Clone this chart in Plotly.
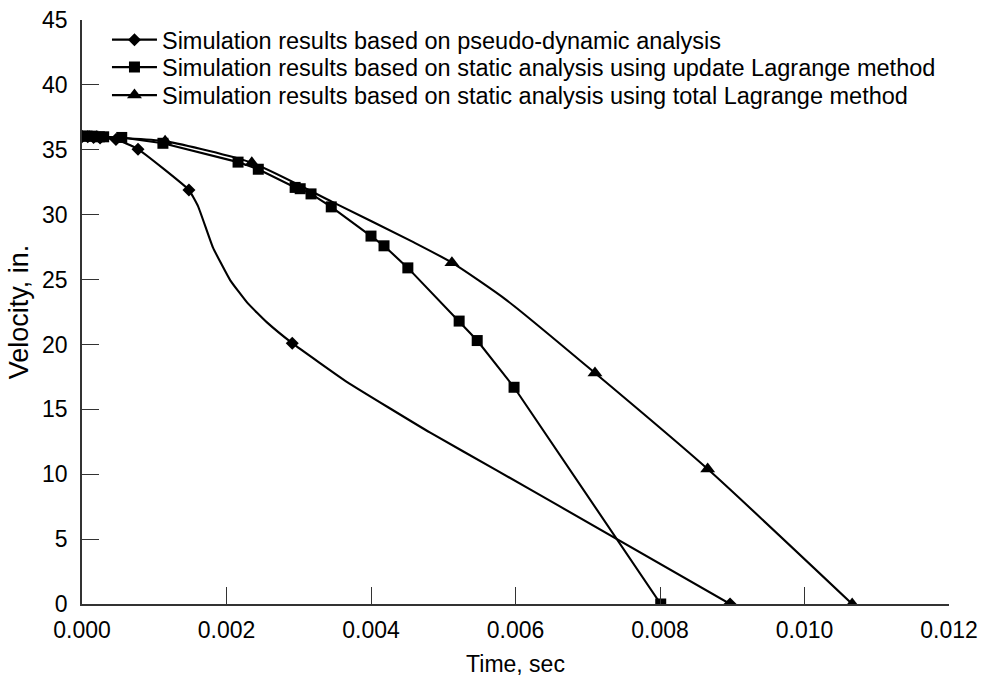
import plotly.graph_objects as go

# ---- data ----
# Series 1: pseudo-dynamic analysis (diamonds)
pd_t_mark = [0.0, 0.00008, 0.00016, 0.00025, 0.00047, 0.000775, 0.00148, 0.00291, 0.00897]
pd_v_mark = [36.0, 36.0, 35.95, 35.9, 35.8, 35.05, 31.9, 20.1, 0.0]
pd_t_line = [0.0, 0.00008, 0.00016, 0.00025, 0.00047, 0.000775, 0.00148, 0.00161, 0.00181,
             0.00205, 0.00229, 0.00256, 0.00291, 0.00367, 0.00482, 0.00574, 0.00662, 0.00897]
pd_v_line = [36.0, 36.0, 35.95, 35.9, 35.8, 35.05, 31.9, 30.6, 27.5,
             24.96, 23.2, 21.7, 20.1, 17.1, 13.2, 10.3, 7.5, 0.0]

# Series 2: static analysis, update Lagrange (squares)
ul_t_mark = [0.0, 0.00007, 0.00015, 0.00024, 0.0003, 0.00055, 0.00112, 0.00216, 0.00244,
             0.00295, 0.00302, 0.00317, 0.00345, 0.0040, 0.00418, 0.00451, 0.00522, 0.00547,
             0.00598, 0.00801]
ul_v_mark = [36.05, 36.05, 36.05, 36.0, 36.0, 35.95, 35.5, 34.05, 33.5,
             32.1, 32.0, 31.6, 30.6, 28.35, 27.6, 25.9, 21.8, 20.3,
             16.7, 0.0]
ul_t_line = ul_t_mark
ul_v_line = ul_v_mark

# Series 3: static analysis, total Lagrange (triangles)
tl_t_mark = [0.0, 0.0001, 0.0002, 0.00115, 0.00235, 0.00512, 0.0071, 0.00866, 0.01066]
tl_v_mark = [36.05, 36.0, 36.0, 35.65, 34.0, 26.3, 17.8, 10.4, 0.0]
tl_t_line = [0.0, 0.0001, 0.0002, 0.00115, 0.00235, 0.00347, 0.00458, 0.00512, 0.00588,
             0.0071, 0.00866, 0.01066]
tl_v_line = [36.05, 36.0, 36.0, 35.65, 34.0, 30.97, 27.9, 26.3, 23.4,
             17.8, 10.4, 0.0]

names = [
    "Simulation results based on pseudo-dynamic analysis",
    "Simulation results based on static analysis using update Lagrange method",
    "Simulation results based on static analysis using total Lagrange method",
]

x_ticks = [0.0, 0.002, 0.004, 0.006, 0.008, 0.010, 0.012]
x_tick_labels = ["0.000", "0.002", "0.004", "0.006", "0.008", "0.010", "0.012"]
y_ticks = [0, 5, 10, 15, 20, 25, 30, 35, 40, 45]

series = [
    (pd_t_line, pd_v_line, pd_t_mark, pd_v_mark, "diamond", 10, "spline", 0.35),
    (ul_t_line, ul_v_line, ul_t_mark, ul_v_mark, "square", 11, "linear", 1.0),
    (tl_t_line, tl_v_line, tl_t_mark, tl_v_mark, "triangle-up", 13, "spline", 0.6),
]
legend_ids = ["legend", "legend2", "legend3"]
legend_rows_y = [0.966, 0.919, 0.871]

FONT = "Liberation Sans, Arial, sans-serif"
fig = go.Figure()

for i, (tl, vl, tm, vm, sym, ms, shape, smooth) in enumerate(series):
    fig.add_trace(go.Scatter(x=tl, y=vl, mode="lines",
                             line=dict(color="black", width=2.1, shape=shape, smoothing=smooth),
                             showlegend=False, hoverinfo="skip"))
    fig.add_trace(go.Scatter(x=tm, y=vm, mode="markers",
                             marker=dict(symbol=sym, size=ms, color="black"),
                             showlegend=False))
    # legend-only entry (line + marker sample)
    fig.add_trace(go.Scatter(x=[None], y=[None], mode="lines+markers", name=names[i],
                             line=dict(color="black", width=2.1),
                             marker=dict(symbol=sym, size=ms, color="black"),
                             legend=legend_ids[i]))

legend_common = dict(x=0.0288, xanchor="left", yanchor="middle",
                     bgcolor="rgba(0,0,0,0)", font=dict(size=23.5, family=FONT),
                     itemwidth=45)

fig.update_layout(
    width=982, height=677,
    margin=dict(l=82, r=33, t=20, b=73),
    paper_bgcolor="white", plot_bgcolor="white",
    font=dict(family=FONT, size=23, color="black"),
    legend=dict(y=legend_rows_y[0], **legend_common),
    legend2=dict(y=legend_rows_y[1], **legend_common),
    legend3=dict(y=legend_rows_y[2], **legend_common),
    xaxis=dict(range=[0, 0.012], tickvals=x_ticks, ticktext=x_tick_labels,
               ticks="inside", ticklen=17, tickwidth=1.2, tickcolor="#333",
               showline=True, linecolor="#333", linewidth=1.5, showgrid=False,
               zeroline=False, tickfont=dict(size=23), automargin=False,
               ticklabelstandoff=5,
               title=dict(text="Time, sec", font=dict(size=23), standoff=16)),
    yaxis=dict(range=[0, 45], tickvals=y_ticks,
               ticks="inside", ticklen=17, tickwidth=1.2, tickcolor="#333",
               showline=True, linecolor="#333", linewidth=1.5, showgrid=False,
               zeroline=False, tickfont=dict(size=23), ticklabelstandoff=8,
               automargin=False,
               title=dict(text="Velocity, in.", font=dict(size=27), standoff=6)),
)

fig.write_html("out.html", config={"displayModeBar": False},
               post_script="document.body.style.margin='0';document.body.style.padding='0';")
